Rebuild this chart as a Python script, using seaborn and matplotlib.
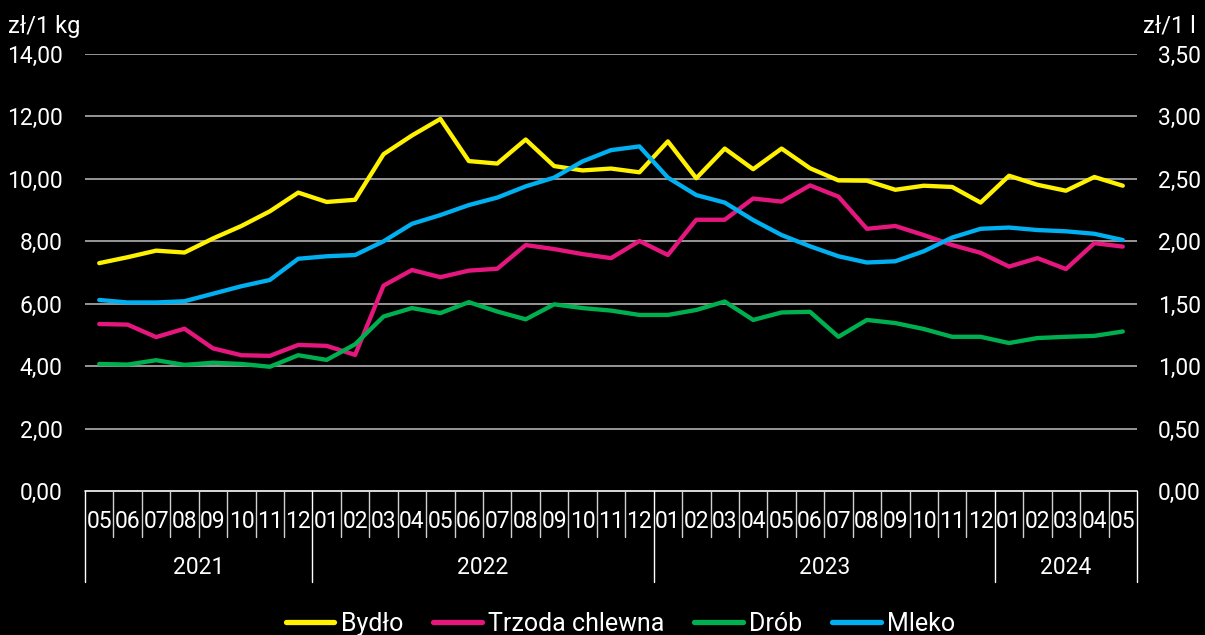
import matplotlib
matplotlib.use("Agg")
import matplotlib.pyplot as plt
import matplotlib.transforms as mtransforms
from matplotlib.lines import Line2D
from matplotlib.ticker import FuncFormatter, MultipleLocator
import seaborn as sns
import pandas as pd
import numpy as np

months = ["05", "06", "07", "08", "09", "10", "11", "12",
          "01", "02", "03", "04", "05", "06", "07", "08", "09", "10", "11", "12",
          "01", "02", "03", "04", "05", "06", "07", "08", "09", "10", "11", "12",
          "01", "02", "03", "04", "05"]
years = ["2021", "2022", "2023", "2024"]
year_counts = [8, 12, 12, 5]

bydlo = [7.30, 7.49, 7.70, 7.64, 8.09, 8.49, 8.96, 9.56, 9.26, 9.33, 10.79, 11.39, 11.92,
         10.57, 10.49, 11.26, 10.41, 10.27, 10.33, 10.21, 11.20, 10.02, 10.97, 10.31,
         10.97, 10.34, 9.95, 9.94, 9.65, 9.78, 9.74, 9.24, 10.10, 9.81, 9.62, 10.06, 9.78]
trzoda = [5.35, 5.33, 4.93, 5.20, 4.57, 4.35, 4.33, 4.68, 4.65, 4.36, 6.58, 7.08, 6.85,
          7.06, 7.12, 7.88, 7.75, 7.59, 7.46, 8.01, 7.56, 8.69, 8.69, 9.37,
          9.27, 9.79, 9.43, 8.40, 8.49, 8.20, 7.88, 7.63, 7.19, 7.46, 7.11, 7.94, 7.83]
drob = [4.07, 4.05, 4.19, 4.04, 4.11, 4.07, 3.98, 4.35, 4.20, 4.70, 5.59, 5.86, 5.70,
        6.05, 5.75, 5.50, 5.98, 5.86, 5.78, 5.64, 5.64, 5.80, 6.07, 5.48,
        5.72, 5.74, 4.94, 5.48, 5.38, 5.19, 4.94, 4.94, 4.74, 4.90, 4.94, 4.97, 5.11]
mleko = [1.53, 1.51, 1.51, 1.52, 1.58, 1.64, 1.69, 1.86, 1.88, 1.89, 2.00, 2.14, 2.21,
         2.29, 2.35, 2.44, 2.51, 2.64, 2.73, 2.76, 2.51, 2.37, 2.31, 2.17,
         2.05, 1.96, 1.88, 1.83, 1.84, 1.92, 2.03, 2.10, 2.11, 2.09, 2.08, 2.06, 2.01]

series_left = ["Bydło", "Trzoda chlewna", "Drób"]
series_right = "Mleko"
colors = {"Bydło": "#FFF200", "Trzoda chlewna": "#E5177E", "Drób": "#00B050", "Mleko": "#00B0F0"}

n = len(months)
idx = np.arange(n)
df_left = pd.DataFrame({
    "x": np.tile(idx, 3),
    "value": bydlo + trzoda + drob,
    "series": np.repeat(series_left, n),
})
df_right = pd.DataFrame({"x": idx, "value": mleko, "series": series_right})

sns.set_theme(style="dark")
plt.rcParams["font.family"] = ["Roboto", "DejaVu Sans"]
plt.rcParams["text.color"] = "white"

fig = plt.figure(figsize=(12.05, 6.35), dpi=100, facecolor="black")
ax = fig.add_axes([85 / 1205, 1 - 491 / 635, (1137 - 85) / 1205, (491 - 54) / 635])
ax.set_facecolor("black")
ax2 = ax.twinx()

lw = 3.1
sns.lineplot(data=df_left, x="x", y="value", hue="series", hue_order=series_left,
             palette=colors, linewidth=lw, ax=ax, legend=False, zorder=3)
sns.lineplot(data=df_right, x="x", y="value", color=colors["Mleko"], linewidth=lw,
             ax=ax2, legend=False, zorder=3)

ax.set_xlim(-0.5, n - 0.5)
ax.set_ylim(0, 14)
ax2.set_ylim(0, 3.5)
ax.yaxis.set_major_locator(MultipleLocator(2))
ax2.yaxis.set_major_locator(MultipleLocator(0.5))
fmt = FuncFormatter(lambda v, p: f"{v:.2f}".replace(".", ","))
ax.yaxis.set_major_formatter(fmt)
ax2.yaxis.set_major_formatter(fmt)
for a in (ax, ax2):
    a.set_xlabel("")
    a.set_ylabel("")
    a.set_xticks([])
    for s in a.spines.values():
        s.set_visible(False)
    a.tick_params(axis="y", length=0, colors="white", labelsize=16.5)
    a.grid(False)
ax.tick_params(axis="y", pad=16)
ax2.tick_params(axis="y", pad=15)
for yv in np.arange(2, 14.1, 2):
    ax.axhline(yv, color="#BFBFBF", linewidth=1.1, zorder=1)
ax.axhline(0, color="white", linewidth=1.2, zorder=1, clip_on=False)

fig.text(8 / 1205, 1 - 26 / 635, "zł/1 kg", ha="left", va="center", fontsize=17, color="white")
fig.text(1143 / 1205, 1 - 26 / 635, "zł/1 l", ha="left", va="center", fontsize=17, color="white")

trans = mtransforms.blended_transform_factory(ax.transData, ax.transAxes)
axh = 491 - 54
month_y = -(522 - 491) / axh
year_y = -(567 - 491) / axh
month_sep = -(537 - 491) / axh
year_sep = -(582 - 491) / axh

for i, m in enumerate(months):
    ax.text(i, month_y, m, transform=trans, ha="center", va="center", fontsize=16.5, color="white")

bounds = np.cumsum([0] + year_counts) - 0.5
for b in np.arange(-0.5, n, 1.0):
    if b in bounds:
        continue
    ax.plot([b, b], [0, month_sep], transform=trans, color="#D0D0D0", linewidth=1, clip_on=False)
for b in bounds:
    ax.plot([b, b], [0, year_sep], transform=trans, color="white", linewidth=1, clip_on=False)
for k, yr in enumerate(years):
    c = (bounds[k] + bounds[k + 1]) / 2
    ax.text(c, year_y, yr, transform=trans, ha="center", va="center", fontsize=16.5, color="white")

handles = [Line2D([0], [0], color=colors[s], linewidth=3.8, solid_capstyle="round")
           for s in series_left + [series_right]]
leg = fig.legend(handles, series_left + [series_right], loc="center",
                 bbox_to_anchor=(0.515, 1 - 624 / 635), ncol=4, frameon=False,
                 fontsize=18, handlelength=1.95, handletextpad=0.25, columnspacing=1.2,
                 labelcolor="white")

fig.savefig("out.png", dpi=100, facecolor="black")
